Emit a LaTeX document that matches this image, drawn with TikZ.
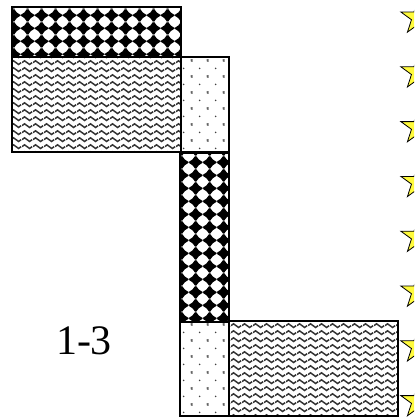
\documentclass[tikz,border=0pt]{standalone}
\usepackage{fontspec}
\setmainfont{Liberation Serif}
\usetikzlibrary{patterns,shapes.geometric,positioning}

\definecolor{staryellow}{RGB}{255,250,60}

% one black diamond of the tile
\newcommand\diamondat[2]{%
  \pgfpathmoveto{\pgfpoint{#1pt}{#2pt+6.3pt}}%
  \pgfpathquadraticcurveto{\pgfpoint{#1pt+2.3pt}{#2pt+2.1pt}}{\pgfpoint{#1pt+7pt}{#2pt}}%
  \pgfpathquadraticcurveto{\pgfpoint{#1pt+2.3pt}{#2pt-2.1pt}}{\pgfpoint{#1pt}{#2pt-6.3pt}}%
  \pgfpathquadraticcurveto{\pgfpoint{#1pt-2.3pt}{#2pt-2.1pt}}{\pgfpoint{#1pt-7pt}{#2pt}}%
  \pgfpathquadraticcurveto{\pgfpoint{#1pt-2.3pt}{#2pt+2.1pt}}{\pgfpoint{#1pt}{#2pt+6.3pt}}%
  \pgfpathclose}

\pgfdeclarepatternformonly{diamondgrid}{\pgfqpoint{0pt}{0pt}}{\pgfqpoint{14pt}{12.6pt}}{\pgfqpoint{14pt}{12.6pt}}{%
  \diamondat{0}{0}\diamondat{14}{0}\diamondat{0}{12.6}\diamondat{14}{12.6}%
  \pgfusepath{fill}}

\pgfdeclarepatternformonly{wavelines}{\pgfqpoint{0pt}{0pt}}{\pgfqpoint{11pt}{7.3pt}}{\pgfqpoint{11pt}{7.3pt}}{%
  \pgfsetlinewidth{1.6pt}%
  \pgfpathmoveto{\pgfqpoint{0pt}{3.65pt}}%
  \pgfpathsine{\pgfqpoint{2.75pt}{2pt}}%
  \pgfpathcosine{\pgfqpoint{2.75pt}{-2pt}}%
  \pgfpathsine{\pgfqpoint{2.75pt}{-2pt}}%
  \pgfpathcosine{\pgfqpoint{2.75pt}{2pt}}%
  \pgfusepath{stroke}}

\pgfdeclarepatternformonly{sanddots}{\pgfqpoint{0pt}{0pt}}{\pgfqpoint{16pt}{15.5pt}}{\pgfqpoint{16pt}{15.5pt}}{%
  \pgfpathcircle{\pgfqpoint{0pt}{0pt}}{0.9pt}%
  \pgfpathcircle{\pgfqpoint{16pt}{0pt}}{0.9pt}%
  \pgfpathcircle{\pgfqpoint{0pt}{15.5pt}}{0.9pt}%
  \pgfpathcircle{\pgfqpoint{16pt}{15.5pt}}{0.9pt}%
  \pgfpathcircle{\pgfqpoint{8pt}{7.75pt}}{0.9pt}%
  \pgfusepath{fill}}

\begin{document}
\begin{tikzpicture}[x=1pt,y=-1pt,
    block/.style={draw,line width=1.5pt,inner sep=0pt,outer sep=0pt,anchor=north west},
    checkblock/.style={block,pattern=diamondgrid,pattern color=black},
    waveblock/.style={block,pattern=wavelines,pattern color=black!80},
    dotblock/.style={block,pattern=sanddots,pattern color=black!75},
    starmark/.style={star,star points=5,star point ratio=2.618,minimum size=36pt,
      inner sep=0pt,draw,line width=0.8pt,fill=staryellow}]
    \useasboundingbox (0,0) rectangle (414,419);
    \clip (0,0) rectangle (414,419);
    \fill[white] (0,0) rectangle (414,419);

    % Upper blocks
    \node[checkblock,minimum width=169pt,minimum height=50pt] (chktop) at (12,7) {};
    \node[waveblock,minimum width=169pt,minimum height=95pt] (wavtop) at (12,57) {};
    \node[dotblock,minimum width=48pt,minimum height=95pt] (dottop) at (181,57) {};

    % Middle column
    \node[checkblock,minimum width=49pt,minimum height=169pt] (chkmid) at (180,153) {};

    % Lower blocks
    \node[dotblock,minimum width=49pt,minimum height=94pt] (dotbot) at (180,322) {};
    \node[waveblock,minimum width=169pt,minimum height=95pt] (wavbot) at (229,321) {};

    % Label
    \node[font=\fontsize{42}{42}\selectfont] (lbl) at (84,341) {1-3};

    % Stars at the right edge
    \foreach \k in {0,...,7}
        \node[starmark] (star\k) at (418,17.6+54.8*\k) {};
\end{tikzpicture}
\end{document}
